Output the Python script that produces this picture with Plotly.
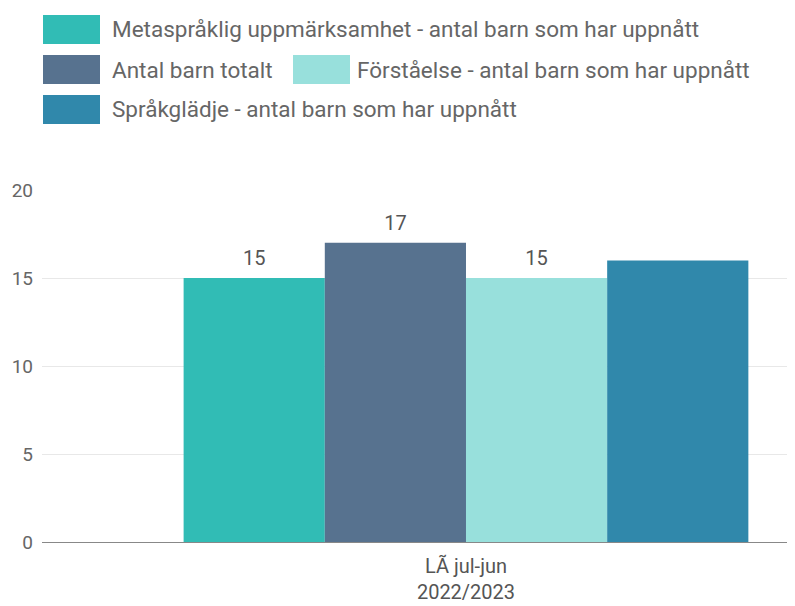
import plotly.graph_objects as go

# ---- data ----
categories = ["LÃ jul-jun<br>2022/2023"]
series_names = [
    "Metaspråklig uppmärksamhet - antal barn som har uppnått",
    "Antal barn totalt",
    "Förståelse - antal barn som har uppnått",
    "Språkglädje - antal barn som har uppnått",
]
series_values = [[15], [17], [15], [16]]
series_labels = [["15"], ["17"], ["15"], [""]]
series_colors = ["#31bcb5", "#57728f", "#98e0dc", "#3088ab"]
y_ticks = [0, 5, 10, 15, 20]

OFF = 8  # browser body margin
W, H = 795 - OFF, 606 - OFF
ML, MR, MT, MB = 42 - OFF, 0, 190 - OFF, 64
GAP = 0.334

fig = go.Figure()
for name, vals, col in zip(series_names, series_values, series_colors):
    fig.add_trace(go.Bar(
        x=categories, y=vals, name=name, marker_color=col, marker_line_width=0,
        showlegend=False,
    ))
# value labels above bars (grouped the same way as the bars)
for name, vals, labs in zip(series_names, series_values, series_labels):
    fig.add_trace(go.Scatter(
        x=categories, y=vals, text=labs, mode="markers+text", textposition="top center",
        marker=dict(size=11, opacity=0), cliponaxis=False, hoverinfo="skip",
        textfont=dict(size=20, color="#555", family="Roboto"), showlegend=False,
    ))

# manual legend (large swatches); coordinates given in page pixels
def px_x(x):
    return (x - OFF - ML) / (W - ML - MR)

def px_y(y):
    return (H - MB - (y - OFF)) / (H - MT - MB)

legend_rows = [
    [(0, 43, 112)],
    [(1, 43, 112), (2, 293, 357)],
    [(3, 43, 112)],
]
row_tops = [15, 55, 95]
for row, top in zip(legend_rows, row_tops):
    for idx, x0, tx in row:
        fig.add_shape(type="rect", xref="paper", yref="paper",
                      x0=px_x(x0), x1=px_x(x0 + 57), y0=px_y(top + 29), y1=px_y(top),
                      fillcolor=series_colors[idx], line_width=0)
        fig.add_annotation(xref="paper", yref="paper", x=px_x(tx - 2), y=px_y(top + 14.5),
                           text=series_names[idx], showarrow=False, xanchor="left", yanchor="middle",
                           font=dict(size=22.5, color="#666", family="Roboto"))

fig.update_layout(
    width=W, height=H,
    margin=dict(l=ML, r=MR, t=MT, b=MB),
    paper_bgcolor="white", plot_bgcolor="white",
    barmode="group", bargap=GAP, bargroupgap=0,
    scattermode="group", scattergap=GAP,
    font=dict(family="Roboto", color="#666", size=18),
    showlegend=False,
)
fig.update_xaxes(range=[-0.5, 0.388], showgrid=False, showline=False, ticks="",
                 tickfont=dict(size=20, color="#555"), ticklabelstandoff=10)
fig.update_yaxes(range=[0, 20], tickvals=y_ticks, showgrid=True, gridcolor="#e8e8e8",
                 zeroline=True, zerolinecolor="#888", zerolinewidth=1,
                 ticks="", tickfont=dict(size=19, color="#666"), ticklabelstandoff=8)

fig.write_html("out.html")
